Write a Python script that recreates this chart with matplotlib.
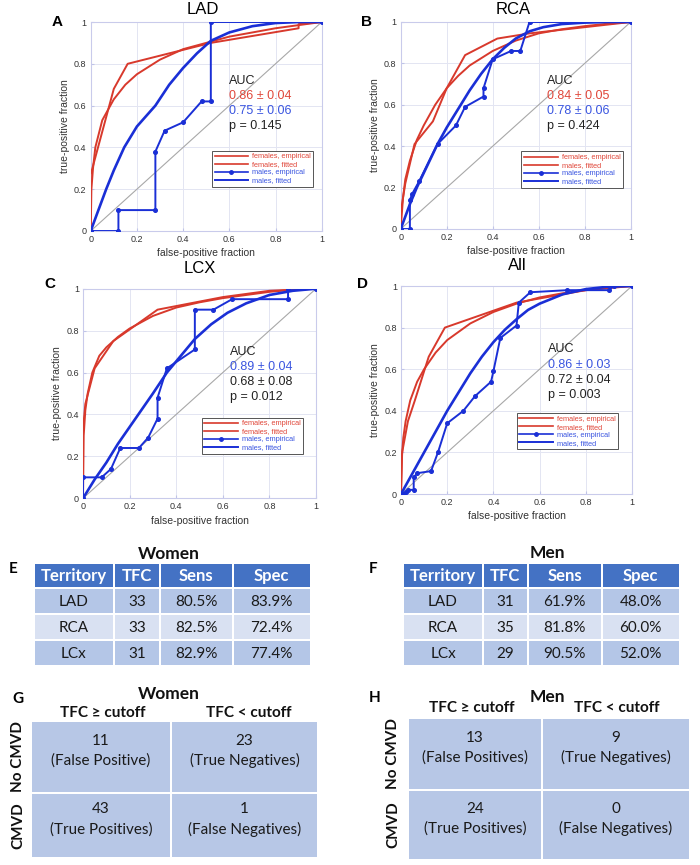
import numpy as np
import matplotlib.pyplot as plt
from matplotlib.lines import Line2D
from matplotlib.patches import Rectangle

# ---------------- ROC data ----------------
# LAD
lad_f_emp_x = [0, 0, 0.1, 0.16, 0.52, 0.9, 0.9, 1]
lad_f_emp_y = [0, 0.27, 0.68, 0.80, 0.90, 0.97, 0.99, 1]
lad_f_fit_x = [0, 0.003, 0.01, 0.02, 0.05, 0.1, 0.15, 0.2, 0.3, 0.4, 0.5, 0.6, 0.7, 0.8, 0.9, 1]
lad_f_fit_y = [0, 0.2, 0.3, 0.4, 0.53, 0.63, 0.7, 0.75, 0.82, 0.87, 0.9, 0.93, 0.95, 0.97, 0.985, 1]
lad_m_emp_x = [0, 0.12, 0.12, 0.28, 0.28, 0.32, 0.40, 0.48, 0.52, 0.52, 1]
lad_m_emp_y = [0, 0, 0.1, 0.1, 0.38, 0.48, 0.52, 0.62, 0.62, 1, 1]
lad_m_fit_x = [0, 0.03, 0.067, 0.1, 0.145, 0.2, 0.28, 0.34, 0.4, 0.46, 0.52, 0.6, 0.7, 0.8, 0.9, 1]
lad_m_fit_y = [0, 0.09, 0.2, 0.29, 0.4, 0.5, 0.6, 0.7, 0.78, 0.85, 0.91, 0.95, 0.98, 0.995, 1, 1]

# RCA
rca_f_emp_x = [0, 0, 0.02, 0.06, 0.14, 0.2, 0.28, 0.42, 0.56, 0.8, 1]
rca_f_emp_y = [0, 0.08, 0.22, 0.41, 0.52, 0.68, 0.84, 0.92, 0.945, 0.975, 1]
rca_f_fit_x = [0, 0.01, 0.02, 0.04, 0.07, 0.1, 0.15, 0.2, 0.25, 0.3, 0.4, 0.5, 0.6, 0.7, 0.8, 0.9, 1]
rca_f_fit_y = [0, 0.15, 0.24, 0.33, 0.43, 0.5, 0.6, 0.68, 0.74, 0.79, 0.86, 0.91, 0.945, 0.965, 0.98, 0.992, 1]
rca_m_emp_x = [0, 0.04, 0.04, 0.05, 0.08, 0.16, 0.24, 0.28, 0.36, 0.36, 0.40, 0.48, 0.52, 0.56, 1]
rca_m_emp_y = [0, 0, 0.14, 0.17, 0.23, 0.41, 0.5, 0.59, 0.64, 0.68, 0.82, 0.86, 0.86, 1, 1]
rca_m_fit_x = [0, 0.02, 0.04, 0.07, 0.1, 0.13, 0.16, 0.2, 0.25, 0.3, 0.35, 0.4, 0.45, 0.5, 0.56, 0.62, 0.7, 0.8, 0.9, 1]
rca_m_fit_y = [0, 0.06, 0.12, 0.2, 0.27, 0.34, 0.41, 0.49, 0.58, 0.67, 0.75, 0.82, 0.875, 0.92, 0.955, 0.975, 0.99, 0.997, 1, 1]

# LCX
lcx_f_emp_x = [0, 0, 0.01, 0.05, 0.13, 0.32, 0.6, 0.8, 1]
lcx_f_emp_y = [0, 0.33, 0.45, 0.62, 0.75, 0.9, 0.96, 0.99, 1]
lcx_f_fit_x = [0, 0.003, 0.01, 0.02, 0.04, 0.07, 0.1, 0.15, 0.2, 0.3, 0.4, 0.5, 0.6, 0.7, 0.8, 0.9, 1]
lcx_f_fit_y = [0, 0.3, 0.42, 0.5, 0.6, 0.68, 0.72, 0.77, 0.81, 0.87, 0.91, 0.935, 0.955, 0.97, 0.985, 0.995, 1]
lcx_m_emp_x = [0, 0, 0.08, 0.12, 0.16, 0.24, 0.28, 0.32, 0.32, 0.36, 0.48, 0.48, 0.56, 0.64, 0.88, 0.88, 1]
lcx_m_emp_y = [0, 0.1, 0.1, 0.14, 0.24, 0.24, 0.29, 0.38, 0.48, 0.62, 0.71, 0.9, 0.9, 0.95, 0.95, 1, 1]
lcx_m_fit_x = [0, 0.05, 0.1, 0.15, 0.2, 0.25, 0.3, 0.36, 0.42, 0.48, 0.55, 0.62, 0.7, 0.8, 0.9, 1]
lcx_m_fit_y = [0, 0.09, 0.17, 0.26, 0.34, 0.42, 0.5, 0.6, 0.68, 0.76, 0.83, 0.885, 0.93, 0.97, 0.99, 1]

# All
all_f_emp_x = [0, 0.005, 0.03, 0.06, 0.12, 0.19, 0.5, 0.8, 1]
all_f_emp_y = [0, 0.2, 0.35, 0.45, 0.66, 0.8, 0.92, 0.98, 1]
all_f_fit_x = [0, 0.003, 0.01, 0.02, 0.04, 0.07, 0.1, 0.15, 0.2, 0.3, 0.4, 0.5, 0.6, 0.7, 0.8, 0.9, 1]
all_f_fit_y = [0, 0.17, 0.27, 0.35, 0.45, 0.54, 0.6, 0.68, 0.74, 0.82, 0.875, 0.915, 0.945, 0.965, 0.98, 0.993, 1]
all_m_emp_x = [0, 0.01, 0.02, 0.03, 0.055, 0.055, 0.07, 0.13, 0.16, 0.2, 0.27, 0.32, 0.39, 0.40, 0.43,
               0.50, 0.51, 0.56, 0.72, 0.90, 0.92, 1]
all_m_emp_y = [0, 0, 0.01, 0.02, 0.02, 0.08, 0.1, 0.11, 0.2, 0.34, 0.4, 0.47, 0.54, 0.59, 0.75,
               0.81, 0.92, 0.97, 0.98, 0.98, 1, 1]
all_m_fit_x = [0, 0.05, 0.1, 0.15, 0.2, 0.25, 0.3, 0.35, 0.4, 0.45, 0.5, 0.55, 0.6, 0.7, 0.8, 0.9, 1]
all_m_fit_y = [0, 0.1, 0.2, 0.3, 0.4, 0.49, 0.58, 0.66, 0.73, 0.79, 0.84, 0.885, 0.915, 0.96, 0.985, 0.997, 1]

legend_std = ["females, empirical", "females, fitted", "males, empirical", "males, fitted"]
legend_rca = ["females, empirical", "males, fitted", "males, empirical", "males, fitted"]

# ---------------- table data ----------------
tbl_header = ["Territory", "TFC", "Sens", "Spec"]
territories = ["LAD", "RCA", "LCx"]
women_tfc = ["33", "33", "31"]
women_sens = ["80.5%", "82.5%", "82.9%"]
women_spec = ["83.9%", "72.4%", "77.4%"]
men_tfc = ["31", "35", "29"]
men_sens = ["61.9%", "81.8%", "90.5%"]
men_spec = ["48.0%", "60.0%", "52.0%"]

cm_cols = ["TFC \u2265 cutoff", "TFC < cutoff"]
cm_rows = ["No CMVD", "CMVD"]
women_cm = [["11", "23"], ["43", "1"]]
women_cm_lbl = [["(False Positive)", "(True Negatives)"], ["(True Positives)", "(False Negatives)"]]
men_cm = [["13", "9"], ["24", "0"]]
men_cm_lbl = [["(False Positives)", "(True Negatives)"], ["(True Positives)", "(False Negatives)"]]

RED = "#d8392c"
BLUE = "#1a2fd6"
TRED = "#e0473a"
TBLUE = "#3a55e0"
HDR = "#4472c4"
ROW_D = "#b4c6e7"
ROW_L = "#d9e1f2"

W, H = 700, 865
fig = plt.figure(figsize=(7, 8.65), dpi=100)
plt.rcParams['font.family'] = ['Liberation Sans', 'DejaVu Sans']


def px_axes(x0, ytop, x1, ybot):
    return fig.add_axes([x0 / W, 1 - ybot / H, (x1 - x0) / W, (ybot - ytop) / H])


def roc_panel(rect, title, letter, tpos, lpos, fe, ff, me, mf, labels, auc_lines, auc_pos, leg_pos):
    ax = px_axes(*rect)
    ax.plot([0, 1], [0, 1], color="#a8a8a8", lw=0.8, zorder=1)
    ax.plot(fe[0], fe[1], color=RED, lw=1.4, zorder=3)
    ax.plot(ff[0], ff[1], color=RED, lw=1.4, zorder=3)
    ax.plot(me[0], me[1], color=BLUE, lw=1.4, marker='o', ms=2.6, zorder=4)
    ax.plot(mf[0], mf[1], color=BLUE, lw=1.9, zorder=4)
    ax.set_xlim(0, 1)
    ax.set_ylim(0, 1)
    ticks = [0, 0.2, 0.4, 0.6, 0.8, 1]
    tl = ["0", "0.2", "0.4", "0.6", "0.8", "1"]
    ax.set_xticks(ticks)
    ax.set_xticklabels(tl)
    ax.set_yticks(ticks)
    ax.set_yticklabels(tl)
    ax.tick_params(labelsize=6.5, direction='in', length=2.5, color="#c0c4e8", labelcolor="#333333", pad=3)
    ax.grid(True, color="#e3e5f2", lw=0.7)
    ax.set_axisbelow(True)
    for s in ax.spines.values():
        s.set_color("#c9cbeb")
        s.set_linewidth(0.8)
    ax.set_xlabel("false-positive fraction", fontsize=7.5, color="#333333", labelpad=3)
    ax.set_ylabel("true-positive fraction", fontsize=7.5, color="#333333", labelpad=3)
    fig.text(tpos[0] / W, 1 - tpos[1] / H, title, fontsize=12, ha='center', va='center')
    fig.text(lpos[0] / W, 1 - lpos[1] / H, letter, fontsize=11, fontweight='bold', ha='center', va='center')
    for i, (txt, col) in enumerate(auc_lines):
        ax.text(auc_pos[0], auc_pos[1] - i * 0.073, txt, color=col, fontsize=9, va='center', ha='left')
    handles = [Line2D([], [], color=RED, lw=1.2),
               Line2D([], [], color=RED, lw=1.2),
               Line2D([], [], color=BLUE, lw=1.2, marker='o', ms=2.5),
               Line2D([], [], color=BLUE, lw=1.4)]
    leg = ax.legend(handles, labels, loc='upper left', bbox_to_anchor=leg_pos, fontsize=5.3,
                    labelcolor=[TRED, TRED, TBLUE, TBLUE], handlelength=4.6, handletextpad=0.5,
                    labelspacing=0.12, borderpad=0.35, borderaxespad=0, fancybox=False,
                    framealpha=1, edgecolor="#555555", numpoints=1)
    leg.get_frame().set_linewidth(0.7)
    return ax


roc_panel((90.7, 22, 321.7, 231), "LAD", "A", (203, 10), (57, 22),
          (lad_f_emp_x, lad_f_emp_y), (lad_f_fit_x, lad_f_fit_y),
          (lad_m_emp_x, lad_m_emp_y), (lad_m_fit_x, lad_m_fit_y), legend_std,
          [("AUC", "#222222"), ("0.86 \u00b1 0.04", TRED), ("0.75 \u00b1 0.06", TBLUE), ("p = 0.145", "#222222")],
          (0.6, 0.72), (0.525, 0.385))
roc_panel((400.7, 22, 630.7, 229), "RCA", "B", (513, 10), (367, 22),
          (rca_f_emp_x, rca_f_emp_y), (rca_f_fit_x, rca_f_fit_y),
          (rca_m_emp_x, rca_m_emp_y), (rca_m_fit_x, rca_m_fit_y), legend_rca,
          [("AUC", "#222222"), ("0.84 \u00b1 0.05", TRED), ("0.78 \u00b1 0.06", TBLUE), ("p = 0.424", "#222222")],
          (0.635, 0.715), (0.525, 0.375))
roc_panel((83, 288.7, 316, 498.3), "LCX", "C", (200, 268), (50, 284),
          (lcx_f_emp_x, lcx_f_emp_y), (lcx_f_fit_x, lcx_f_fit_y),
          (lcx_m_emp_x, lcx_m_emp_y), (lcx_m_fit_x, lcx_m_fit_y), legend_std,
          [("AUC", "#222222"), ("0.89 \u00b1 0.04", TBLUE), ("0.68 \u00b1 0.08", "#222222"), ("p = 0.012", "#222222")],
          (0.63, 0.70), (0.51, 0.385))
roc_panel((401, 286, 632, 494), "All", "D", (517, 266), (362, 284),
          (all_f_emp_x, all_f_emp_y), (all_f_fit_x, all_f_fit_y),
          (all_m_emp_x, all_m_emp_y), (all_m_fit_x, all_m_fit_y), legend_std,
          [("AUC", "#222222"), ("0.86 \u00b1 0.03", TBLUE), ("0.72 \u00b1 0.04", "#222222"), ("p = 0.003", "#222222")],
          (0.635, 0.695), (0.50, 0.39))

# ---------------- tables (overlay in pixel coords) ----------------
ov = fig.add_axes([0, 0, 1, 1])
ov.set_xlim(0, W)
ov.set_ylim(H, 0)
ov.axis('off')
TF = ['Lato', 'DejaVu Sans']
gap = 1.0


def summary_table(xe, ye, title, title_xy, letter, letter_xy, tfc, sens, spec):
    ov.text(title_xy[0], title_xy[1], title, fontsize=12.5, fontweight='bold', ha='center', va='center',
            family=TF, color="#111111")
    ov.text(letter_xy[0], letter_xy[1], letter, fontsize=11, fontweight='bold', ha='center', va='center',
            family=TF)
    rows = [tbl_header] + [[territories[i], tfc[i], sens[i], spec[i]] for i in range(3)]
    fills = [HDR, ROW_D, ROW_L, ROW_D]
    for r, row in enumerate(rows):
        for c, val in enumerate(row):
            x0, x1 = xe[c] + gap, xe[c + 1] - gap
            y0, y1 = ye[r] + gap, ye[r + 1] - gap
            ov.add_patch(Rectangle((x0, y0), x1 - x0, y1 - y0, facecolor=fills[r], edgecolor='none'))
            if r == 0:
                ov.text((x0 + x1) / 2, (y0 + y1) / 2 + 1, val, fontsize=12, fontweight='bold', color='white',
                        ha='center', va='center', family=TF)
            else:
                ov.text((x0 + x1) / 2, (y0 + y1) / 2 + 1, val, fontsize=11, color='#1a1a1a',
                        ha='center', va='center', family=TF)


summary_table([34, 114, 160, 232.5, 311], [563, 587.5, 614, 640, 666], "Women", (169, 554), "E", (13, 569),
              women_tfc, women_sens, women_spec)
summary_table([403, 483, 527.5, 601.5, 680], [563, 587.5, 614, 640, 666], "Men", (547, 553), "F", (373, 569),
              men_tfc, men_sens, men_spec)


def conf_matrix(xe, ye, title, title_xy, letter, letter_xy, head_y, head_x, row_x, nums, lbls):
    ov.text(title_xy[0], title_xy[1], title, fontsize=12.5, fontweight='bold', ha='center', va='center',
            family=TF, color="#111111")
    ov.text(letter_xy[0], letter_xy[1], letter, fontsize=11, fontweight='bold', ha='center', va='center',
            family=TF)
    for c in range(2):
        ov.text(head_x[c], head_y, cm_cols[c], fontsize=11, fontweight='bold', ha='center', va='center',
                family=TF, color="#111111")
    for r in range(2):
        y0, y1 = ye[r] + gap, ye[r + 1] - gap
        ov.text(row_x, (y0 + y1) / 2, cm_rows[r], fontsize=11, fontweight='bold', rotation=90,
                ha='center', va='center', family=TF, color="#111111")
        for c in range(2):
            x0, x1 = xe[c] + gap, xe[c + 1] - gap
            ov.add_patch(Rectangle((x0, y0), x1 - x0, y1 - y0, facecolor="#b7c7e6", edgecolor='none'))
            cy = (y0 + y1) / 2 - 6
            ov.text((x0 + x1) / 2, cy - 10, nums[r][c], fontsize=11, ha='center', va='center',
                    family=TF, color="#1a1a1a")
            ov.text((x0 + x1) / 2, cy + 10, lbls[r][c], fontsize=11, ha='center', va='center',
                    family=TF, color="#1a1a1a")


conf_matrix([31, 171, 318], [721, 792.5, 858], "Women", (169, 694), "G", (18, 699), 713, [103, 249], 18,
            women_cm, women_cm_lbl)
conf_matrix([408, 542, 690], [718, 789.5, 860], "Men", (547, 697), "H", (375, 698), 708, [472, 617], 393,
            men_cm, men_cm_lbl)

fig.savefig("out.png", dpi=100)
